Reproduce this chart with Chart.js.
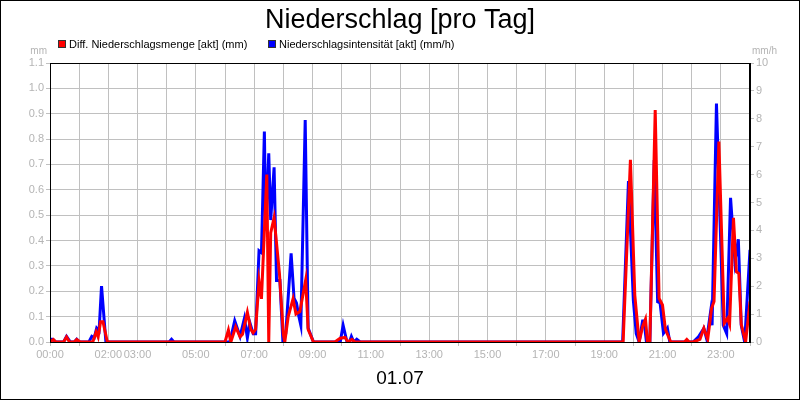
<!DOCTYPE html>
<html>
<head>
<meta charset="utf-8">
<script src="https://cdn.jsdelivr.net/npm/chart.js@4/dist/chart.umd.min.js"></script>
<style>
  html, body { margin: 0; padding: 0; background: #fff; }
  canvas { display: block; }
</style>
</head>
<body>
<canvas id="rainChart" width="800" height="400"></canvas>
<script>
// minutes since midnight / values
const redTimes = [0, 7, 12, 28, 34, 40, 50, 55, 62, 88, 95, 99, 104, 109, 118,
    360, 367, 372, 382, 391, 396, 406, 413, 418, 423, 430, 435, 446, 450, 454, 461, 472, 480, 483, 490, 500, 506, 514, 526, 531, 542,
    586, 597, 607, 613, 621, 627,
    1179, 1194, 1203, 1212, 1219, 1225, 1229, 1234, 1245, 1253, 1260, 1266, 1277, 1305, 1310, 1315,
    1323, 1337, 1345, 1353, 1361, 1366, 1376, 1387, 1394, 1398, 1406, 1412, 1417, 1422, 1431, 1440];
const redValues = [0, 0.01, 0, 0, 0.02, 0, 0, 0.01, 0, 0, 0.04, 0.02, 0.08, 0.08, 0,
    0, 0.047, 0, 0.06, 0.02, 0.03, 0.117, 0.05, 0.036, 0.05, 0.24, 0.17, 0.66, 0, 0.43, 0.49, 0.27, 0.03, 0, 0.1, 0.17, 0.11, 0.12, 0.245, 0.05, 0,
    0, 0.015, 0.018, 0, 0.01, 0,
    0, 0.718, 0.185, 0, 0.06, 0.09, 0, 0, 0.915, 0.172, 0.146, 0.05, 0, 0, 0.01, 0,
    0, 0.01, 0.054, 0.01, 0.133, 0.16, 0.79, 0.074, 0.093, 0.07, 0.49, 0.277, 0.27, 0.07, 0, 0.16];

const blueTimes = [0, 5, 12, 28, 34, 42, 50, 55, 60, 80, 86, 91, 96, 101, 106, 115, 245, 250, 255,
    370, 380, 391, 400, 406, 411, 418, 423, 430, 435, 441, 444, 450, 454, 461, 466, 473, 479, 485, 496, 502, 507, 511, 516, 525, 531, 542,
    597, 603, 611, 616, 620, 625, 631, 638,
    1178, 1190, 1200, 1206, 1212, 1219, 1222, 1227, 1234, 1243, 1250, 1255, 1262, 1270, 1275,
    1323, 1334, 1345, 1351, 1359, 1362, 1371, 1385, 1392, 1400, 1409, 1416, 1422, 1429, 1440];
const blueValues = [0.1, 0.1, 0, 0, 0.2, 0, 0, 0.1, 0, 0, 0.2, 0.15, 0.5, 0.4, 2.0, 0, 0, 0.1, 0,
    0, 0.76, 0.2, 0.85, 0.15, 0.7, 0.3, 0.3, 3.27, 3.2, 7.54, 4.0, 6.76, 4.37, 6.26, 2.2, 2.2, 0.05, 0.3, 3.18, 1.57, 1.4, 1.0, 0.6, 7.96, 0.5, 0,
    0, 0.6, 0, 0, 0.2, 0, 0.1, 0,
    0, 5.77, 1.5, 0.3, 0, 0.75, 0.75, 0, 0, 6.52, 1.44, 1.4, 0.31, 0.5, 0,
    0, 0.19, 0.49, 0.1, 1.09, 0.6, 8.55, 0.6, 0.3, 5.17, 2.88, 3.68, 0.6, 0, 3.3];

const seriesLabels = ['Diff. Niederschlagsmenge [akt] (mm)', 'Niederschlagsintensität [akt] (mm/h)'];
const labelHours = [0, 2, 3, 5, 7, 9, 11, 13, 15, 17, 19, 21, 23];
const tickMarkHours = [0, 1, 4, 6, 8, 10, 12, 14, 16, 18, 20, 22, 24];
const chartTitle = 'Niederschlag [pro Tag]';
const dateLabel = '01.07';

const FONT = "'Liberation Sans', Arial, sans-serif";
const GRAY = '#b4b4b4';
const GRID = '#c0c0c0';

function toPoints(times, values) {
    return times.map((t, i) => ({ x: t, y: values[i] }));
}

function pad2(n) {
    return String(n).padStart(2, '0');
}

// title, legend, unit labels, date and frames
const decorations = {
    id: 'decorations',
    afterDraw(chart) {
        const ctx = chart.ctx;
        const a = chart.chartArea;
        ctx.save();
        ctx.fillStyle = '#000';
        ctx.textAlign = 'center';
        ctx.textBaseline = 'alphabetic';
        ctx.font = '27px ' + FONT;
        ctx.fillText(chartTitle, 400, 28);

        // legend
        ctx.font = '11px ' + FONT;
        ctx.textAlign = 'left';
        const items = [{ x: 58, color: '#ff0000' }, { x: 268, color: '#0000ff' }];
        items.forEach((it, i) => {
            ctx.fillStyle = it.color;
            ctx.fillRect(it.x, 40, 8, 8);
            ctx.strokeStyle = '#333';
            ctx.lineWidth = 1;
            ctx.strokeRect(it.x + 0.5, 40.5, 7, 7);
            ctx.fillStyle = '#000';
            ctx.fillText(seriesLabels[i], it.x + 11, 48);
        });

        // units
        ctx.fillStyle = GRAY;
        ctx.font = '10px ' + FONT;
        ctx.textAlign = 'right';
        ctx.fillText('mm', 47, 54);
        ctx.textAlign = 'left';
        ctx.fillText('mm/h', 752, 54);

        // date
        ctx.fillStyle = '#000';
        ctx.font = '19px ' + FONT;
        ctx.textAlign = 'center';
        ctx.fillText(dateLabel, 400, 384);

        // frames
        ctx.strokeStyle = '#000';
        ctx.lineWidth = 1;
        ctx.strokeRect(Math.round(a.left) + 0.5, Math.round(a.top) + 0.5,
            Math.round(a.right - a.left) - 1, Math.round(a.bottom - a.top));
        ctx.strokeRect(0.5, 0.5, 799, 399);
        ctx.restore();
    }
};

const ctxRain = document.getElementById('rainChart').getContext('2d');
new Chart(ctxRain, {
    type: 'line',
    data: {
        datasets: [{
            label: seriesLabels[0],
            data: toPoints(redTimes, redValues),
            borderColor: '#ff0000',
            backgroundColor: '#ff0000',
            borderWidth: 3,
            pointRadius: 0,
            tension: 0,
            yAxisID: 'y'
        }, {
            label: seriesLabels[1],
            data: toPoints(blueTimes, blueValues),
            borderColor: '#0000ff',
            backgroundColor: '#0000ff',
            borderWidth: 3,
            pointRadius: 0,
            tension: 0,
            yAxisID: 'y1'
        }]
    },
    options: {
        responsive: false,
        animation: false,
        devicePixelRatio: 1,
        layout: { padding: { top: 63, left: 0, right: 0, bottom: 0 } },
        plugins: {
            legend: { display: false },
            title: { display: false },
            tooltip: { enabled: false }
        },
        scales: {
            x: {
                type: 'linear',
                min: 0,
                max: 1440,
                afterFit: s => { s.height = 58; },
                afterBuildTicks: s => {
                    s.ticks = [];
                    for (let h = 0; h <= 24; h++) s.ticks.push({ value: h * 60 });
                },
                ticks: {
                    autoSkip: false,
                    maxRotation: 0,
                    color: GRAY,
                    padding: 2,
                    font: { family: FONT, size: 11 },
                    callback: v => labelHours.includes(v / 60) ? pad2(v / 60) + ':00' : ''
                },
                grid: {
                    color: GRID,
                    tickLength: 4,
                    tickColor: c => tickMarkHours.includes(c.tick.value / 60) ? GRID : 'rgba(0,0,0,0)'
                },
                border: { color: '#000' }
            },
            y: {
                position: 'left',
                min: 0,
                max: 1.1,
                afterFit: s => { s.width = 50; },
                ticks: {
                    stepSize: 0.1,
                    color: GRAY,
                    padding: 2,
                    font: { family: FONT, size: 11 },
                    callback: v => v.toFixed(1)
                },
                grid: { color: GRID, tickLength: 4 },
                border: { color: '#000' }
            },
            y1: {
                position: 'right',
                min: 0,
                max: 10,
                afterFit: s => { s.width = 50; },
                ticks: {
                    stepSize: 1,
                    color: GRAY,
                    padding: 2,
                    font: { family: FONT, size: 11 }
                },
                grid: { drawOnChartArea: false, color: GRID, tickLength: 4 },
                border: { color: '#000' }
            }
        }
    },
    plugins: [decorations]
});
</script>
</body>
</html>
